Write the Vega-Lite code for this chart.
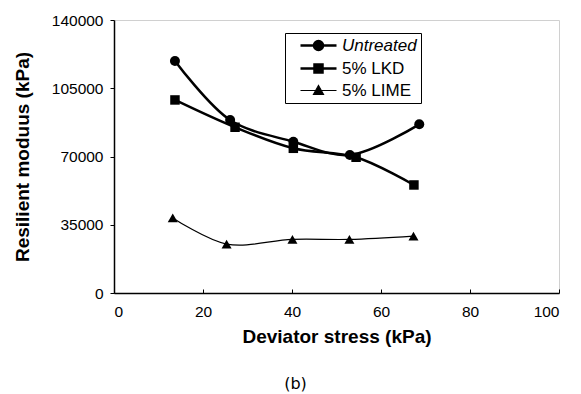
{
  "$schema": "https://vega.github.io/schema/vega-lite/v6.json",
  "width": 445,
  "height": 273,
  "autosize": {"type": "none"},
  "padding": {"left": 114, "top": 20, "right": 22, "bottom": 101},
  "background": "white",
  "title": {
    "text": "(b)",
    "orient": "bottom",
    "anchor": "middle",
    "dx": -41,
    "offset": 29,
    "font": "DejaVu Sans",
    "fontSize": 16,
    "fontWeight": "normal",
    "color": "black"
  },
  "config": {
    "view": {"stroke": "#d0d0d0", "strokeWidth": 1},
    "axis": {
      "grid": false,
      "domainColor": "black",
      "domainWidth": 1.5,
      "tickColor": "black",
      "labelColor": "black",
      "titleColor": "black",
      "labelFont": "Liberation Sans",
      "titleFont": "Liberation Sans",
      "labelFontSize": 15.5,
      "titleFontSize": 19,
      "titleFontWeight": "bold"
    },
    "legend": {
      "labelFont": "Liberation Sans",
      "labelFontSize": 17,
      "labelColor": "black"
    }
  },
  "data": {
    "values": [
      {"series": "Untreated", "x": 13.7, "y": 119000},
      {"series": "Untreated", "x": 26.1, "y": 88700},
      {"series": "Untreated", "x": 40.3, "y": 77600},
      {"series": "Untreated", "x": 53.0, "y": 70800},
      {"series": "Untreated", "x": 68.6, "y": 86500},
      {"series": "5% LKD", "x": 13.7, "y": 99000},
      {"series": "5% LKD", "x": 27.2, "y": 85000},
      {"series": "5% LKD", "x": 40.3, "y": 74200},
      {"series": "5% LKD", "x": 54.4, "y": 69600},
      {"series": "5% LKD", "x": 67.4, "y": 55400},
      {"series": "5% LIME", "x": 13.2, "y": 38500},
      {"series": "5% LIME", "x": 25.3, "y": 25100},
      {"series": "5% LIME", "x": 40.1, "y": 27500},
      {"series": "5% LIME", "x": 52.9, "y": 27500},
      {"series": "5% LIME", "x": 67.3, "y": 29200}
    ]
  },
  "encoding": {
    "x": {
      "field": "x",
      "type": "quantitative",
      "scale": {"domain": [0, 100], "nice": false, "zero": false},
      "axis": {
        "title": "Deviator stress (kPa)",
        "values": [0, 20, 40, 60, 80, 100],
        "tickSize": -4,
        "labelPadding": 15,
        "titlePadding": 8
      }
    },
    "y": {
      "field": "y",
      "type": "quantitative",
      "scale": {"domain": [0, 140000], "nice": false},
      "axis": {
        "title": "Resilient moduus (kPa)",
        "values": [0, 35000, 70000, 105000, 140000],
        "format": "d",
        "tickSize": 4,
        "labelPadding": 7,
        "titlePadding": 19
      }
    }
  },
  "layer": [
    {
      "mark": {"type": "line", "interpolate": "catmull-rom"},
      "encoding": {
        "strokeWidth": {"condition": {"test": "datum.series === '5% LIME'", "value": 1.2}, "value": 2.5},
        "color": {
          "field": "series",
          "type": "nominal",
          "scale": {"domain": ["Untreated", "5% LKD", "5% LIME"], "range": ["black", "black", "black"]},
          "legend": {
            "title": null,
            "orient": "none",
            "legendX": 171,
            "legendY": 13,
            "padding": 4,
            "fillColor": "white",
            "strokeColor": "black",
            "symbolSize": 100,
            "symbolType": {"expr": "datum.value === 'Untreated' ? 'M0.6,0H7.8M5.1,0A0.9,0.9,0,1,1,3.3,0A0.9,0.9,0,1,1,5.1,0Z' : datum.value === '5% LKD' ? 'M0.6,0H7.8M3.4,-0.8H5V0.8H3.4Z' : 'M0.6,0H7.8M4.2,-1L5.2,0.8H3.2Z'"},
            "symbolStrokeWidth": {"expr": "datum.value === '5% LIME' ? 1.2 : 2.5"},
            "symbolStrokeColor": "black",
            "symbolFillColor": "black",
            "labelFontStyle": {"expr": "datum.value === 'Untreated' ? 'italic' : 'normal'"},
            "labelOffset": 36,
            "rowPadding": 3
          }
        }
      }
    },
    {
      "transform": [{"filter": "datum.series === 'Untreated'"}],
      "mark": {"type": "point", "shape": "circle", "filled": true, "size": 100, "opacity": 1, "color": "black"}
    },
    {
      "transform": [{"filter": "datum.series === '5% LKD'"}],
      "mark": {"type": "point", "shape": "square", "filled": true, "size": 90, "opacity": 1, "color": "black"}
    },
    {
      "transform": [{"filter": "datum.series === '5% LIME'"}],
      "mark": {"type": "point", "shape": "triangle-up", "filled": true, "size": 100, "opacity": 1, "color": "black"}
    }
  ]
}
